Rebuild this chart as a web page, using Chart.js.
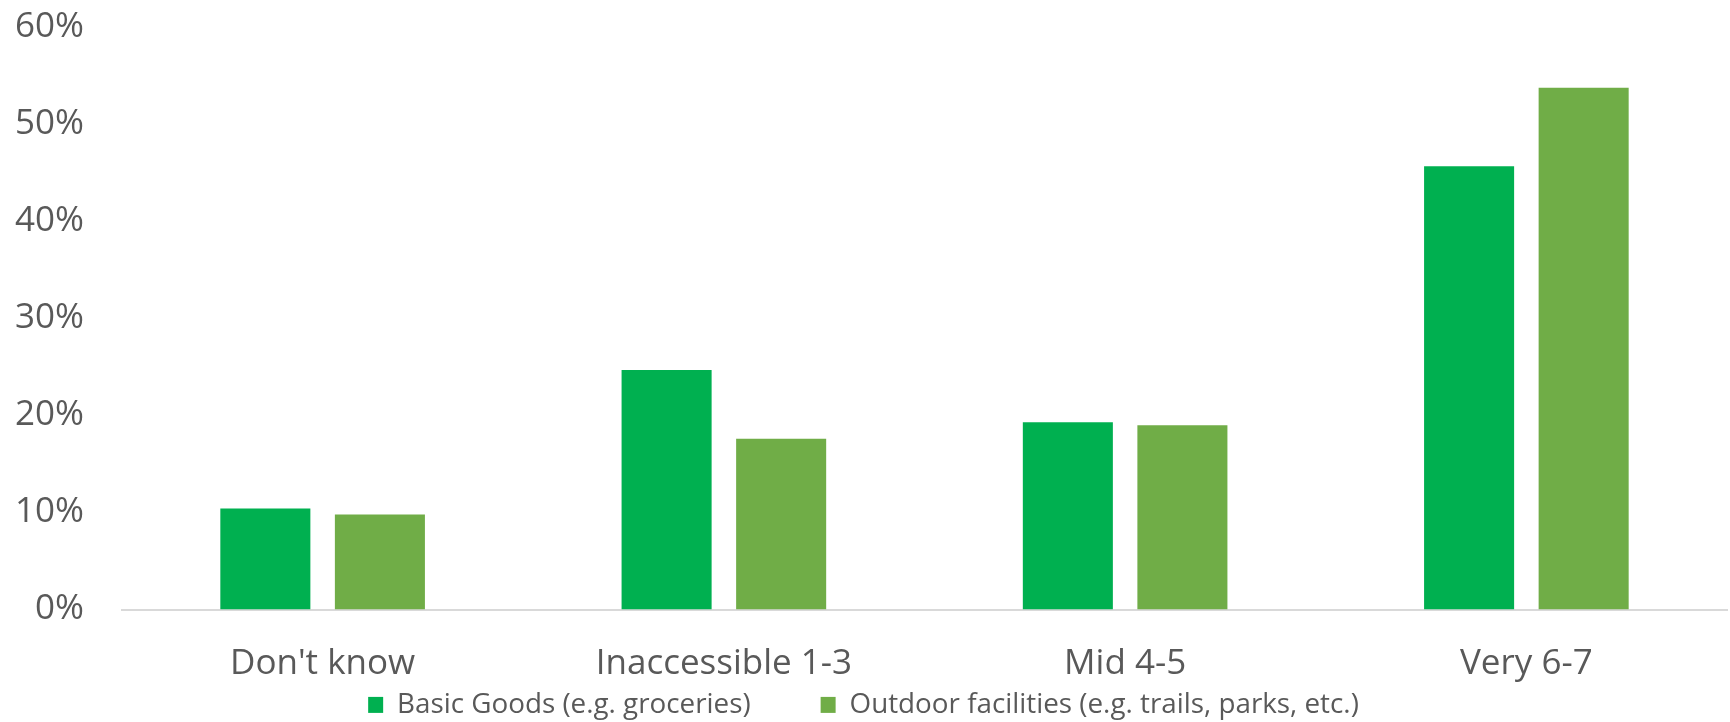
<!DOCTYPE html>
<html>
<head>
<meta charset="utf-8">
<script src="https://cdn.jsdelivr.net/npm/chart.js@4.4.1/dist/chart.umd.min.js"></script>
<style>
  html, body { margin: 0; padding: 0; background: #ffffff; }
  #wrap { width: 1730px; height: 722px; position: relative; }
</style>
</head>
<body>
<div id="wrap"><canvas id="chart"></canvas></div>
<script>
// Accessibility categories along the x axis
const categories = ["Don't know", "Inaccessible 1-3", "Mid 4-5", "Very 6-7"];

// Share of respondents (%) per category
const basicGoods = [10.4, 24.7, 19.3, 45.7];
const outdoorFacilities = [9.8, 17.6, 19.0, 53.8];

const seriesNames = ["Basic Goods (e.g. groceries)", "Outdoor facilities (e.g. trails, parks, etc.)"];
const seriesColors = ["#00B050", "#70AD47"];

// Y axis ticks (percent)
const yTicks = [0, 10, 20, 30, 40, 50, 60];

const textColor = "#595959";
const fontFamily = "'Open Sans', 'DejaVu Sans', sans-serif";

// wider gap after the first legend entry
const legendGap = ' '.repeat(9);

new Chart(document.getElementById('chart'), {
  type: 'bar',
  data: {
    labels: categories,
    datasets: [
      { label: seriesNames[0] + legendGap, data: basicGoods, backgroundColor: seriesColors[0] },
      { label: seriesNames[1], data: outdoorFacilities, backgroundColor: seriesColors[1] }
    ]
  },
  options: {
    responsive: true,
    maintainAspectRatio: false,
    animation: false,
    devicePixelRatio: 1,
    datasets: {
      bar: { categoryPercentage: 0.571, barPercentage: 0.786 }
    },
    layout: { padding: { top: 27.5, right: 3, bottom: 0, left: 0 } },
    plugins: {
      tooltip: { enabled: false },
      legend: {
        position: 'bottom',
        maxHeight: 36,
        labels: {
          color: textColor,
          font: { family: fontFamily, size: 27.8 },
          boxWidth: 15,
          boxHeight: 16,
          padding: 5
        }
      }
    },
    scales: {
      x: {
        grid: { display: false },
        border: { display: true, color: '#D9D9D9', width: 2 },
        ticks: {
          color: textColor,
          font: { family: fontFamily, size: 35 },
          padding: 25.5,
          maxRotation: 0
        },
        afterFit: (scale) => { scale.height = 76.5; }
      },
      y: {
        min: 0,
        max: 60,
        afterBuildTicks: (scale) => { scale.ticks = yTicks.map(v => ({ value: v })); },
        grid: { display: false, tickLength: 38 },
        border: { display: false },
        ticks: {
          color: textColor,
          font: { family: fontFamily, size: 35 },
          padding: 0,
          callback: (v) => v + '%'
        },
        afterFit: (scale) => { scale.width = 122; }
      }
    }
  }
});
</script>
</body>
</html>
